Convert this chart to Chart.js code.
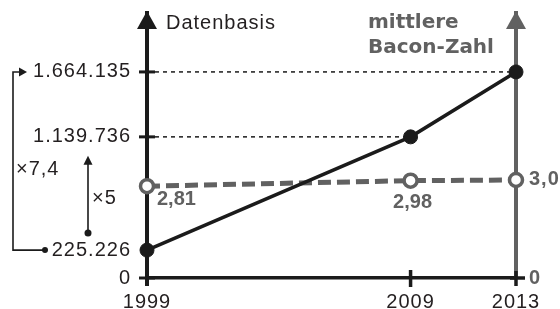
<!DOCTYPE html>
<html><head><meta charset="utf-8">
<script src="https://cdn.jsdelivr.net/npm/chart.js@4.4.1/dist/chart.umd.min.js"></script>
<style>html,body{margin:0;padding:0;background:#fff;overflow:hidden}canvas{display:block}</style>
</head><body>
<canvas id="c" width="560" height="309"></canvas>
<script>
const years = [1999, 2009, 2013];
const datenbasis = [225226, 1139736, 1664135];
const baconZahl = [2.81, 2.98, 3.0];
const baconLabels = ['2,81', '2,98', '3,0'];
const xTicks = [1999, 2009, 2013];
const leftTicks = [0, 225226, 1139736, 1664135];
const leftTickLabels = ['0', '225.226', '1.139.736', '1.664.135'];
const rightTicks = [0, 3.0];
const rightTickLabels = ['0', '3,0'];
const leftAxisTitle = 'Datenbasis';
const rightAxisTitle = ['mittlere', 'Bacon-Zahl'];
const factorLabels = ['×7,4', '×5'];

const BLACK = '#1b1b1b', GREY = '#616161', TEXT = '#231f20';
const REG = '20px "Liberation Sans", Arial, sans-serif';
const BOLD = 'bold 20px "Liberation Sans", Arial, sans-serif';
const TITLEBOLD = 'bold 20px "DejaVu Sans", sans-serif';

function tri(ctx, pts, color) {
  ctx.fillStyle = color; ctx.beginPath();
  ctx.moveTo(pts[0][0], pts[0][1]); ctx.lineTo(pts[1][0], pts[1][1]); ctx.lineTo(pts[2][0], pts[2][1]);
  ctx.closePath(); ctx.fill();
}
function line(ctx, x1, y1, x2, y2, w, color) {
  ctx.strokeStyle = color; ctx.lineWidth = w; ctx.beginPath(); ctx.moveTo(x1, y1); ctx.lineTo(x2, y2); ctx.stroke();
}
function spacing(ctx, v) { try { ctx.letterSpacing = v; } catch (e) {} }

const deco = {
  id: 'deco',
  beforeDraw(chart) { spacing(chart.ctx, '1px'); },
  beforeDatasetsDraw(chart) {
    const {ctx, chartArea, scales: {x, y}} = chart;
    const x0 = x.getPixelForValue(years[0]);
    const y0 = y.getPixelForValue(0);
    ctx.save();
    ctx.setLineDash([4, 4]);
    for (let i = 1; i < years.length; i++) {
      const py = y.getPixelForValue(datenbasis[i]);
      line(ctx, x0 + 8, py, x.getPixelForValue(years[i]), py, 1.5, BLACK);
    }
    ctx.setLineDash([]);
    [0, datenbasis[1], datenbasis[2]].forEach(v => {
      const py = y.getPixelForValue(v);
      line(ctx, x0 - 8, py, x0 + 8, py, 3, BLACK);
    });
    line(ctx, x0, y0, x0, y0 + 8, 4, BLACK);
    const x9 = x.getPixelForValue(years[1]);
    line(ctx, x9, y0 - 8, x9, y0 + 9, 3.5, BLACK);
    const x13 = x.getPixelForValue(years[2]);
    line(ctx, x13, y0 - 7, x13, y0 + 8, 3.5, BLACK);
    line(ctx, x13 - 6, y0, x13 + 9, y0, 3.5, BLACK);
    const t = chartArea.top;
    tri(ctx, [[x0, t - 2], [x0 - 10, t + 16], [x0 + 10, t + 16]], BLACK);
    tri(ctx, [[x13, t - 2], [x13 - 10, t + 16], [x13 + 10, t + 16]], GREY);
    ctx.restore();
  },
  afterDatasetsDraw(chart) {
    const {ctx, scales: {x, y, y2}} = chart;
    const x0 = x.getPixelForValue(years[0]);
    ctx.save();
    spacing(ctx, '1px');
    ctx.fillStyle = TEXT; ctx.font = REG; ctx.textAlign = 'left'; ctx.textBaseline = 'alphabetic';
    ctx.fillText(leftAxisTitle, x0 + 19, 29);
    spacing(ctx, '0px');
    ctx.fillStyle = GREY; ctx.font = TITLEBOLD;
    ctx.fillText(rightAxisTitle[0], 368, 28);
    ctx.fillText(rightAxisTitle[1], 368, 53);
    ctx.font = BOLD; ctx.fillStyle = GREY;
    ctx.textAlign = 'left';
    ctx.fillText(baconLabels[0], x0 + 10, y2.getPixelForValue(baconZahl[0]) + 19);
    ctx.textAlign = 'center';
    ctx.fillText(baconLabels[1], x.getPixelForValue(years[1]) + 2, y2.getPixelForValue(baconZahl[1]) + 27);
    const yLow = y.getPixelForValue(datenbasis[0]);
    const yHigh = y.getPixelForValue(datenbasis[2]);
    const yMid = y.getPixelForValue(datenbasis[1]);
    ctx.strokeStyle = BLACK; ctx.lineWidth = 1.6;
    ctx.beginPath(); ctx.moveTo(45, yLow); ctx.lineTo(13, yLow); ctx.lineTo(13, yHigh); ctx.lineTo(21, yHigh); ctx.stroke();
    tri(ctx, [[27, yHigh], [19, yHigh - 4.5], [19, yHigh + 4.5]], BLACK);
    ctx.fillStyle = BLACK; ctx.beginPath(); ctx.arc(45, yLow, 3, 0, Math.PI * 2); ctx.fill();
    const ax = 88, aBot = yLow - 17, aTop = yMid + 19;
    line(ctx, ax, aBot, ax, aTop + 8, 1.6, BLACK);
    tri(ctx, [[ax, aTop], [ax - 4.5, aTop + 9], [ax + 4.5, aTop + 9]], BLACK);
    ctx.fillStyle = BLACK; ctx.beginPath(); ctx.arc(ax, aBot, 3.5, 0, Math.PI * 2); ctx.fill();
    ctx.fillStyle = TEXT; ctx.font = REG; ctx.textAlign = 'left';
    spacing(ctx, '1px');
    ctx.fillText(factorLabels[0], 16, 175);
    ctx.fillText(factorLabels[1], 92, 204);
    ctx.restore();
  }
};

const noPadV = s => { s.paddingTop = 0; s.paddingBottom = 0; };

new Chart(document.getElementById('c'), {
  type: 'line',
  data: {
    datasets: [
      {
        label: 'Datenbasis', yAxisID: 'y',
        data: years.map((yr, i) => ({x: yr, y: datenbasis[i]})),
        borderColor: BLACK, borderWidth: 3.5, tension: 0,
        pointRadius: 7, pointBorderWidth: 1, pointBackgroundColor: BLACK, pointBorderColor: BLACK,
        clip: false
      },
      {
        label: 'mittlere Bacon-Zahl', yAxisID: 'y2',
        data: years.map((yr, i) => ({x: yr, y: baconZahl[i]})),
        borderColor: GREY, borderWidth: 5, borderDash: [13, 6], tension: 0,
        pointRadius: 6.5, pointBorderWidth: 3.5, pointBackgroundColor: '#ffffff', pointBorderColor: GREY,
        clip: false
      }
    ]
  },
  options: {
    responsive: false, animation: false, devicePixelRatio: 1,
    layout: {padding: {left: 0, right: 0, top: 13, bottom: 0}},
    plugins: {legend: {display: false}, tooltip: {enabled: false}, title: {display: false}},
    scales: {
      x: {
        type: 'linear', position: 'bottom', min: years[0], max: years[2],
        afterBuildTicks: s => { s.ticks = xTicks.map(v => ({value: v})); },
        afterFit: s => { s.height = 31; s.paddingLeft = 0; s.paddingRight = 0; },
        grid: {display: false, drawTicks: false},
        border: {display: true, color: BLACK, width: 3.5},
        ticks: {autoSkip: false, maxRotation: 0, padding: 12, color: TEXT, font: {family: '"Liberation Sans", Arial, sans-serif', size: 20},
          callback: v => String(v)}
      },
      y: {
        type: 'linear', position: 'left', min: 0, max: 2140000,
        afterBuildTicks: s => { s.ticks = leftTicks.map(v => ({value: v})); },
        afterFit: s => { s.width = 147; noPadV(s); },
        grid: {display: false, drawTicks: false},
        border: {display: true, color: BLACK, width: 4},
        ticks: {padding: 16, color: TEXT, font: {family: '"Liberation Sans", Arial, sans-serif', size: 20},
          callback: v => leftTickLabels[leftTicks.indexOf(v)]}
      },
      y2: {
        type: 'linear', position: 'right', min: 0, max: 8.11,
        afterBuildTicks: s => { s.ticks = rightTicks.map(v => ({value: v})); },
        afterFit: s => { s.width = 44; noPadV(s); },
        grid: {display: false, drawTicks: false},
        border: {display: true, color: GREY, width: 4},
        ticks: {padding: 13, color: GREY, font: {family: '"Liberation Sans", Arial, sans-serif', size: 20, weight: 'bold'},
          callback: v => rightTickLabels[rightTicks.indexOf(v)]}
      }
    }
  },
  plugins: [deco]
});
</script>
</body></html>
